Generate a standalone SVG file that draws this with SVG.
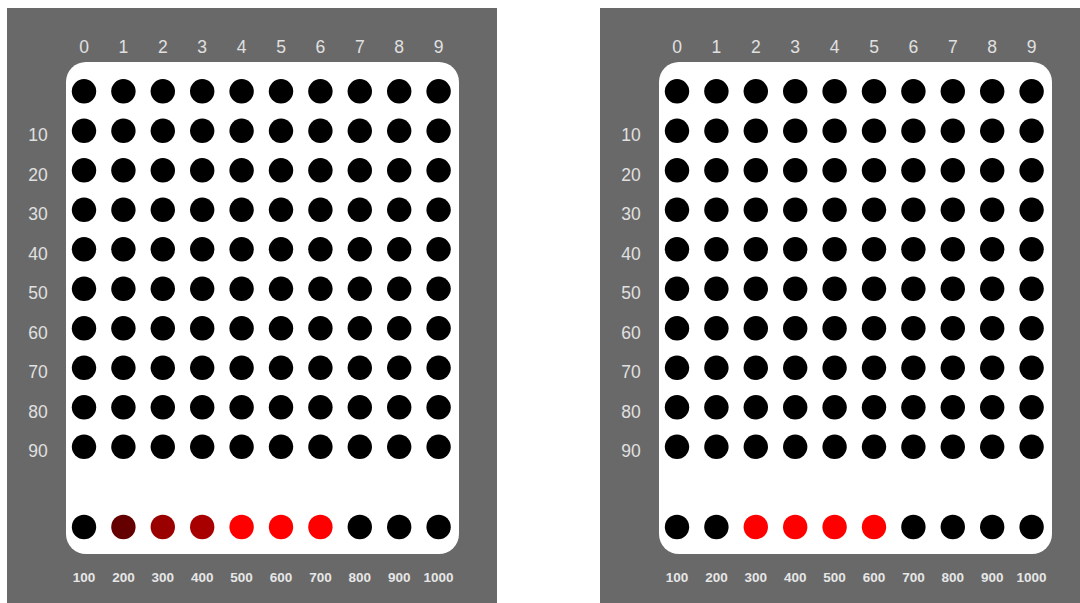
<svg xmlns="http://www.w3.org/2000/svg" width="1080" height="603" viewBox="0 0 1080 603">
<defs>
<style>
.bg{fill:#696969}
.board{fill:#ffffff}
.led{fill:#000000}
.on{fill:#ff0000}
.col{font-family:"Liberation Sans",Arial,sans-serif;font-size:17.5px;fill:#e0e0e0;text-anchor:middle}
.row{font-family:"Liberation Sans",Arial,sans-serif;font-size:17.5px;fill:#e0e0e0;text-anchor:middle}
.val{font-family:"Liberation Sans",Arial,sans-serif;font-size:13.5px;font-weight:bold;fill:#e6e6e6;text-anchor:middle}
</style>
<g id="grid">
<text class="col" x="84" y="53.3">0</text><text class="col" x="123.4" y="53.3">1</text><text class="col" x="162.8" y="53.3">2</text><text class="col" x="202.2" y="53.3">3</text><text class="col" x="241.6" y="53.3">4</text><text class="col" x="281" y="53.3">5</text><text class="col" x="320.4" y="53.3">6</text><text class="col" x="359.8" y="53.3">7</text><text class="col" x="399.2" y="53.3">8</text><text class="col" x="438.6" y="53.3">9</text>
<text class="row" x="38" y="141">10</text><text class="row" x="38" y="180.5">20</text><text class="row" x="38" y="220">30</text><text class="row" x="38" y="259.5">40</text><text class="row" x="38" y="299">50</text><text class="row" x="38" y="338.5">60</text><text class="row" x="38" y="378">70</text><text class="row" x="38" y="417.5">80</text><text class="row" x="38" y="457">90</text>
<text class="val" x="84" y="581.5">100</text><text class="val" x="123.4" y="581.5">200</text><text class="val" x="162.8" y="581.5">300</text><text class="val" x="202.2" y="581.5">400</text><text class="val" x="241.6" y="581.5">500</text><text class="val" x="281" y="581.5">600</text><text class="val" x="320.4" y="581.5">700</text><text class="val" x="359.8" y="581.5">800</text><text class="val" x="399.2" y="581.5">900</text><text class="val" x="438.6" y="581.5">1000</text>
</g>
<g id="r">
<circle class="led" cx="84" cy="0" r="12.2"/><circle class="led" cx="123.4" cy="0" r="12.2"/><circle class="led" cx="162.8" cy="0" r="12.2"/><circle class="led" cx="202.2" cy="0" r="12.2"/><circle class="led" cx="241.6" cy="0" r="12.2"/><circle class="led" cx="281" cy="0" r="12.2"/><circle class="led" cx="320.4" cy="0" r="12.2"/><circle class="led" cx="359.8" cy="0" r="12.2"/><circle class="led" cx="399.2" cy="0" r="12.2"/><circle class="led" cx="438.6" cy="0" r="12.2"/>
</g>
<g id="dots">
<use href="#r" y="91.3"/><use href="#r" y="130.8"/><use href="#r" y="170.3"/><use href="#r" y="209.8"/><use href="#r" y="249.3"/><use href="#r" y="288.8"/><use href="#r" y="328.3"/><use href="#r" y="367.8"/><use href="#r" y="407.3"/><use href="#r" y="446.8"/>
</g>
</defs>
<g id="panel-left">
<rect class="bg" x="7" y="8" width="490" height="595"/>
<rect class="board" x="66" y="62" width="393" height="492" rx="20"/>
<use href="#grid"/>
<use href="#dots"/>
<g id="bottom-left">
<circle class="led" cx="84" cy="527" r="12.2"/>
<circle cx="123.4" cy="527" r="12.2" fill="#640000"/>
<circle cx="162.8" cy="527" r="12.2" fill="#9a0000"/>
<circle cx="202.2" cy="527" r="12.2" fill="#a80000"/>
<circle class="on" cx="241.6" cy="527" r="12.2"/>
<circle class="on" cx="281" cy="527" r="12.2"/>
<circle class="on" cx="320.4" cy="527" r="12.2"/>
<circle class="led" cx="359.8" cy="527" r="12.2"/>
<circle class="led" cx="399.2" cy="527" r="12.2"/>
<circle class="led" cx="438.6" cy="527" r="12.2"/>
</g>
</g>
<g id="panel-right">
<rect class="bg" x="600" y="8" width="480" height="595"/>
<rect class="board" x="659" y="62" width="393" height="492" rx="20"/>
<use href="#grid" transform="translate(593,0)"/>
<use href="#dots" transform="translate(593,0)"/>
<g id="bottom-right">
<circle class="led" cx="677" cy="527" r="12.2"/>
<circle class="led" cx="716.4" cy="527" r="12.2"/>
<circle class="on" cx="755.8" cy="527" r="12.2"/>
<circle class="on" cx="795.2" cy="527" r="12.2"/>
<circle class="on" cx="834.6" cy="527" r="12.2"/>
<circle class="on" cx="874" cy="527" r="12.2"/>
<circle class="led" cx="913.4" cy="527" r="12.2"/>
<circle class="led" cx="952.8" cy="527" r="12.2"/>
<circle class="led" cx="992.2" cy="527" r="12.2"/>
<circle class="led" cx="1031.6" cy="527" r="12.2"/>
</g>
</g>
<g id="connectors"/>
</svg>
